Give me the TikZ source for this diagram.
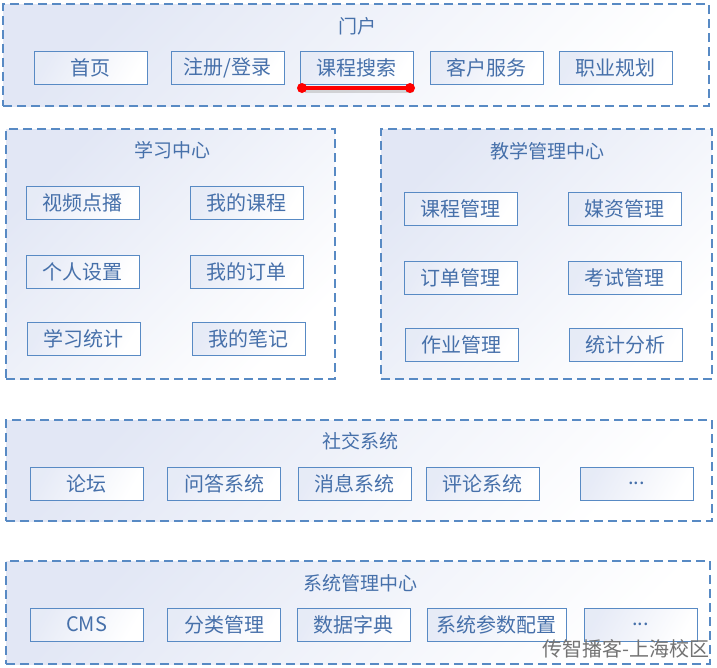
\documentclass[tikz,border=0pt]{standalone}
\usepackage{fontspec}
\setmainfont{Noto Sans CJK SC}
\definecolor{txt}{RGB}{70,112,170}
\definecolor{bord}{RGB}{88,138,196}
\definecolor{shd}{RGB}{226,231,245}
\definecolor{wm}{RGB}{115,115,115}
\tikzset{
  grp/.style={draw=bord, line width=1.3pt, dash pattern=on 9pt off 5pt,
     top color=shd, bottom color=white, shading angle=45,
     minimum width=#1, inner sep=0pt},
  grpttl/.style={text=txt, font=\fontsize{19}{19}\selectfont, inner sep=0pt},
  sub/.style={draw=bord, line width=1pt, top color=shd!85, bottom color=white,
     shading angle=60, minimum width=#1, minimum height=33pt, inner sep=0pt,
     text=txt, font=\fontsize{20}{20}\selectfont},
  sub/.default=113pt,
  redline/.style={red, line width=3.2pt},
  dot/.style={circle, fill=red, inner sep=0pt, minimum size=10pt}
}
\begin{document}
\begin{tikzpicture}[x=1pt,y=-1pt]
\useasboundingbox (0,0) rectangle (717,667);
% groups
\node[grp=706pt, minimum height=102pt] (g1) at (356,55) {};
\node[grp=329pt, minimum height=250pt] (g2) at (170.5,254) {};
\node[grp=331pt, minimum height=250pt] (g3) at (546.5,254) {};
\node[grp=706pt, minimum height=101pt] (g4) at (359,470.5) {};
\node[grp=704pt, minimum height=103pt] (g5) at (358,612.5) {};
% titles
\node[grpttl] (t1) at (357,26) {门户};
\node[grpttl] (t2) at (172,150) {学习中心};
\node[grpttl] (t3) at (547,151) {教学管理中心};
\node[grpttl] (t4) at (360,441) {社交系统};
\node[grpttl] (t5) at (360,583) {系统管理中心};
% portal
\node[sub] (a1) at (90.5,68) {首页};
\node[sub] (a2) at (227.5,68) {注册/登录};
\node[sub] (a3) at (356.5,68) {课程搜索};
\node[sub] (a4) at (486.5,68) {客户服务};
\node[sub] (a5) at (615.5,68) {职业规划};
% learning center
\node[sub] (b1) at (82.5,202.5) {视频点播};
\node[sub] (b2) at (246.5,202.5) {我的课程};
\node[sub] (b3) at (82.5,271.5) {个人设置};
\node[sub] (b4) at (246.5,271.5) {我的订单};
\node[sub] (b5) at (83.5,339) {学习统计};
\node[sub] (b6) at (248.5,339) {我的笔记};
% teaching management
\node[sub] (c1) at (460.5,208.5) {课程管理};
\node[sub] (c2) at (624.5,208.5) {媒资管理};
\node[sub] (c3) at (460.5,277.5) {订单管理};
\node[sub] (c4) at (624.5,277.5) {考试管理};
\node[sub] (c5) at (461.5,344.5) {作业管理};
\node[sub] (c6) at (625.5,344.5) {统计分析};
% social
\node[sub] (d1) at (86.5,483.5) {论坛};
\node[sub] (d2) at (224,483.5) {问答系统};
\node[sub] (d3) at (354.5,483.5) {消息系统};
\node[sub] (d4) at (482.5,483.5) {评论系统};
\node[sub] (d5) at (636.5,483.5) {...};
% system management
\node[sub] (e1) at (86.5,624.5) {CMS};
\node[sub] (e2) at (224,624.5) {分类管理};
\node[sub] (e3) at (353.5,624.5) {数据字典};
\node[sub=139pt] (e4) at (496.5,624.5) {系统参数配置};
\node[sub] (e5) at (640.5,624.5) {...};
% red marker line
\coordinate (r1) at (302,88);
\coordinate (r2) at (410,88);
\draw[line width=4pt, black!30, opacity=0.5] ([shift={(3,3)}]r1) -- ([shift={(3,3)}]r2);
\draw[redline] (r1) -- (r2);
\node[dot] (rd1) at (r1) {};
\node[dot] (rd2) at (r2) {};
% watermark
\node[text=wm, font=\fontsize{20}{20}\selectfont, inner sep=0pt] (wmk) at (626,649) {传智播客-上海校区};
\end{tikzpicture}
\end{document}
